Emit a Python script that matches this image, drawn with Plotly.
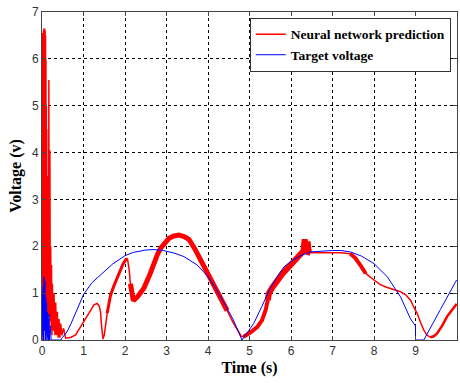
import plotly.graph_objects as go

# ---------------- data ----------------
# Target voltage (blue)
target_t = [0.0, 0.01, 0.02, 0.03, 0.04, 0.05, 0.06, 0.07, 0.08, 0.09, 0.10, 0.11,
            0.12, 0.13, 0.14, 0.15, 0.16, 0.17, 0.18, 0.20, 0.22, 0.23, 0.45,
            0.49, 0.60, 0.70, 0.80, 0.90, 1.00, 1.20, 1.45, 1.70, 2.00, 2.20,
            2.50, 2.70, 2.93, 3.20, 3.42, 3.74, 4.00, 4.20, 4.38, 4.60, 4.82,
            5.10, 5.30, 5.47, 5.65, 5.83, 6.00, 6.23, 6.47, 6.71, 7.00, 7.20,
            7.43, 7.70, 8.00, 8.32, 8.64, 8.88, 9.00, 9.00, 9.20, 9.60, 9.99]
target_v = [0.0, 1.0, 0.1, 1.15, 0.0, 1.35, 0.2, 1.25, 0.0, 0.9, 0.1, 0.8,
            0.0, 0.6, 0.05, 0.45, 0.0, 0.55, 0.0, 0.3, 0.0, 0.0, 0.0,
            0.05, 0.17, 0.35, 0.56, 0.78, 0.97, 1.22, 1.43, 1.62, 1.80, 1.87,
            1.92, 1.93, 1.91, 1.85, 1.78, 1.60, 1.35, 1.08, 0.80, 0.45, 0.0,
            0.35, 0.72, 1.05, 1.33, 1.56, 1.68, 1.80, 1.88, 1.90, 1.91, 1.91,
            1.88, 1.79, 1.63, 1.35, 0.92, 0.45, 0.30, 0.0, 0.0, 0.65, 1.28]

# Neural network prediction (red)
pred_t = [0.0, 0.005, 0.01, 0.015, 0.02, 0.025, 0.03, 0.035, 0.04, 0.045, 0.05,
          0.055, 0.06, 0.065, 0.07, 0.075, 0.08, 0.085, 0.09, 0.095, 0.10, 0.105,
          0.11, 0.115, 0.12, 0.13, 0.14, 0.15, 0.16, 0.165, 0.17, 0.18, 0.19,
          0.20, 0.21, 0.22, 0.23, 0.24, 0.25, 0.27, 0.29, 0.31, 0.33, 0.35,
          0.37, 0.39, 0.41, 0.43, 0.45, 0.48, 0.52, 0.57, 0.70, 0.81, 0.93,
          1.05, 1.15, 1.25, 1.33, 1.38, 1.41, 1.44, 1.47, 1.50, 1.54, 1.57,
          1.65, 1.73, 1.85, 1.95, 2.02, 2.06, 2.10, 2.13, 2.17, 2.20, 2.30,
          2.45, 2.60, 2.69, 2.78, 2.86, 2.96, 3.06, 3.18, 3.30, 3.42, 3.54,
          3.68, 3.82, 3.94, 4.06, 4.18, 4.30, 4.46, 4.60, 4.72, 4.80, 4.86,
          4.95, 5.05, 5.19, 5.30, 5.39, 5.44, 5.47, 5.55, 5.67, 5.80, 5.99,
          6.10, 6.23, 6.30, 6.33, 6.36, 6.40, 6.43, 6.47, 6.60, 6.80, 7.00,
          7.20, 7.43, 7.55, 7.67, 7.80, 8.00, 8.15, 8.32, 8.50, 8.64, 8.78,
          8.88, 8.96, 9.04, 9.12, 9.20, 9.28, 9.36, 9.44, 9.52, 9.64, 9.76,
          9.88, 9.99]
pred_v = [0.0, 6.5, 0.5, 6.55, 1.0, 6.6, 0.3, 6.6, 1.5, 6.65, 0.2,
          6.6, 2.0, 6.65, 0.5, 6.6, 1.5, 6.5, 0.3, 6.0, 1.0, 5.0,
          0.5, 4.5, 1.0, 3.5, 0.3, 3.0, 0.8, 5.55, 0.5, 2.5, 4.05,
          0.4, 2.0, 0.2, 1.6, 0.1, 1.2, 0.2, 1.0, 0.1, 0.8, 0.1,
          0.6, 0.05, 0.45, 0.05, 0.35, 0.1, 0.25, 0.04, 0.06, 0.11, 0.28,
          0.43, 0.60, 0.75, 0.78, 0.72, 0.60, 0.25, 0.02, 0.10, 0.40, 0.57,
          0.95, 1.15, 1.42, 1.62, 1.72, 1.73, 1.50, 1.20, 0.90, 0.84, 0.92,
          1.10, 1.40, 1.63, 1.82, 1.96, 2.08, 2.17, 2.22, 2.24, 2.21, 2.15,
          1.95, 1.71, 1.48, 1.28, 1.06, 0.85, 0.63, 0.38, 0.18, 0.08, 0.07,
          0.12, 0.18, 0.28, 0.42, 0.64, 0.85, 1.00, 1.12, 1.28, 1.42, 1.60,
          1.70, 1.81, 1.90, 2.15, 1.85, 2.10, 1.87, 1.86, 1.86, 1.86, 1.86,
          1.86, 1.84, 1.75, 1.60, 1.42, 1.28, 1.18, 1.12, 1.07, 1.03, 0.95,
          0.85, 0.70, 0.57, 0.38, 0.21, 0.10, 0.06, 0.08, 0.14, 0.30, 0.50,
          0.65, 0.77]

x_ticks = [0, 1, 2, 3, 4, 5, 6, 7, 8, 9, 10]
y_ticks = [0, 1, 2, 3, 4, 5, 6, 7]

# noisy stretches of the prediction drawn as a thicker band (style only)
noisy_bands = [((1.57, 2.06), 3), ((2.13, 4.55), 5), ((4.86, 5.44), 4),
               ((5.44, 6.47), 6), ((7.43, 7.85), 4), ((9.30, 10.0), 2.5)]

RED = "#FF0000"
BLUE = "#0000FF"

fig = go.Figure()
fig.add_trace(go.Scatter(x=pred_t, y=pred_v, mode="lines",
                         line=dict(color=RED, width=1.5),
                         name="Neural network prediction"))
for (lo, hi), w in noisy_bands:
    xs = [t for t in pred_t if lo <= t <= hi]
    ys = [v for t, v in zip(pred_t, pred_v) if lo <= t <= hi]
    fig.add_trace(go.Scatter(x=xs, y=ys, mode="lines", showlegend=False,
                             line=dict(color=RED, width=w), hoverinfo="skip"))
fig.add_trace(go.Scatter(x=target_t, y=target_v, mode="lines",
                         line=dict(color=BLUE, width=1),
                         name="Target voltage"))

tickfont = dict(family="Liberation Sans", size=12, color="#333333")
titlefont = dict(family="Liberation Serif", size=16, color="#000000", weight="bold")

fig.update_layout(
    width=460, height=383,
    margin=dict(l=42, r=3, t=12, b=43),
    paper_bgcolor="white", plot_bgcolor="white",
    showlegend=True,
    legend=dict(x=0.985, y=0.982, xanchor="right", yanchor="top",
                bgcolor="white", bordercolor="#333333", borderwidth=1,
                font=dict(family="Liberation Serif", size=13.5, color="#000000",
                          weight="bold"),
                tracegroupgap=0),
    xaxis=dict(range=[0, 10], tickvals=x_ticks, ticktext=[str(t) for t in x_ticks],
               showgrid=True, gridcolor="#000000", gridwidth=1, griddash="3px,3px",
               showline=True, linecolor="#444444", linewidth=1, mirror="ticks",
               ticks="inside", ticklen=4, tickcolor="#444444",
               tickfont=tickfont, zeroline=False,
               title=dict(text="Time (s)", font=titlefont, standoff=4)),
    yaxis=dict(range=[0, 7], tickvals=y_ticks, ticktext=[str(t) for t in y_ticks],
               showgrid=True, gridcolor="#000000", gridwidth=1, griddash="3px,3px",
               showline=True, linecolor="#444444", linewidth=1, mirror="ticks",
               ticks="inside", ticklen=4, tickcolor="#444444",
               tickfont=tickfont, zeroline=False,
               title=dict(text="Voltage (v)", font=titlefont, standoff=6)),
)

fig.write_html("out.html")
